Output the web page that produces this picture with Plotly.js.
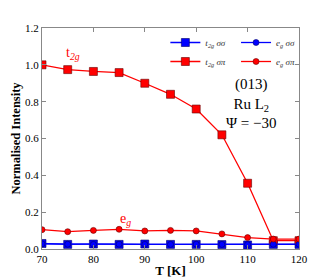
<!DOCTYPE html>
<html><head><meta charset="utf-8">
<script src="https://cdn.plot.ly/plotly-3.0.1.min.js"></script>
<style>html,body{margin:0;padding:0;background:#fff}#c{width:332px;height:278px}</style>
</head><body><div id="c"></div>
<script>
const T = [70, 75, 80, 85, 90, 95, 100, 105, 110, 115, 120];
const t2gSigmaSigma = [0.030, 0.025, 0.027, 0.025, 0.027, 0.025, 0.025, 0.024, 0.022, 0.025, 0.025];
const egSigmaSigma  = [0.028, 0.026, 0.025, 0.026, 0.025, 0.025, 0.026, 0.025, 0.024, 0.026, 0.026];
const t2gSigmaPi    = [1.000, 0.974, 0.964, 0.958, 0.900, 0.840, 0.760, 0.620, 0.357, 0.045, 0.045];
const egSigmaPi     = [0.105, 0.094, 0.101, 0.107, 0.098, 0.101, 0.098, 0.082, 0.062, 0.054, 0.054];
const xTicks = [70, 80, 90, 100, 110, 120];
const yTicks = [0, 0.2, 0.4, 0.6, 0.8, 1.0, 1.2];
const yTickText = ['0.0', '0.2', '0.4', '0.6', '0.8', '1.0', '1.2'];

const serif = 'Liberation Serif, Times New Roman, serif';
function tr(y, name, color, symbol, size, edge, leg) {
  return {x: T, y: y, name: name, type: 'scatter', mode: 'lines+markers', legend: leg,
    line: {color: color, width: 1.3},
    marker: {color: color, symbol: symbol, size: size, line: {color: edge, width: 0.6}}};
}
const data = [
  tr(t2gSigmaSigma, '<i>t</i><sub><i>2g</i></sub> <i>σσ</i>', '#0000ff', 'square', 8, '#000066', 'legend'),
  tr(t2gSigmaPi, '<i>t</i><sub><i>2g</i></sub> <i>σπ</i>', '#ff0000', 'square', 8, '#660000', 'legend'),
  tr(egSigmaSigma, '<i>e</i><sub><i>g</i></sub> <i>σσ</i>', '#0000ff', 'circle', 6, '#000066', 'legend2'),
  tr(egSigmaPi, '<i>e</i><sub><i>g</i></sub> <i>σπ</i>', '#ff0000', 'circle', 6, '#660000', 'legend2')
];

const axisCommon = {showgrid: false, zeroline: false, showline: true, mirror: 'ticks',
  linecolor: '#888', linewidth: 1, ticks: 'inside', ticklen: 4, tickcolor: '#888',
  tickfont: {family: serif, size: 11, color: '#000'}};
const legCommon = {orientation: 'v', yanchor: 'top', xanchor: 'left', y: 1.0,
  bgcolor: 'rgba(0,0,0,0)', font: {family: serif, size: 9, color: '#333'},
  itemwidth: 30, tracegroupgap: 0, traceorder: 'normal'};
const layout = {
  width: 332, height: 278,
  margin: {l: 42, r: 33, t: 28, b: 29},
  paper_bgcolor: '#fff', plot_bgcolor: '#fff',
  showlegend: true,
  legend: Object.assign({}, legCommon, {x: 0.48}),
  legend2: Object.assign({}, legCommon, {x: 0.755}),
  xaxis: Object.assign({}, axisCommon, {range: [70, 120], tickvals: xTicks,
    title: {text: '<b>T [K]</b>', font: {family: serif, size: 13, color: '#000'}, standoff: 2}}),
  yaxis: Object.assign({}, axisCommon, {range: [0, 1.2], tickvals: yTicks, ticktext: yTickText,
    title: {text: '<b>Normalised Intensity</b>', font: {family: serif, size: 12.5, color: '#000'}, standoff: 1}}),
  annotations: [
    {x: 76, y: 1.06, xref: 'x', yref: 'y', text: 't<sub><i>2g</i></sub>', showarrow: false,
      font: {family: serif, size: 14, color: '#ff0000'}},
    {x: 86.3, y: 0.16, xref: 'x', yref: 'y', text: 'e<sub><i>g</i></sub>', showarrow: false,
      font: {family: serif, size: 14, color: '#ff0000'}},
    {x: 110.8, y: 0.79, xref: 'x', yref: 'y', text: '(013)<br>Ru L<sub>2</sub><br>Ψ = −30', showarrow: false,
      font: {family: serif, size: 15, color: '#000'}, align: 'center'}
  ]
};
Plotly.newPlot('c', data, layout, {displayModeBar: false, staticPlot: true});
</script></body></html>
